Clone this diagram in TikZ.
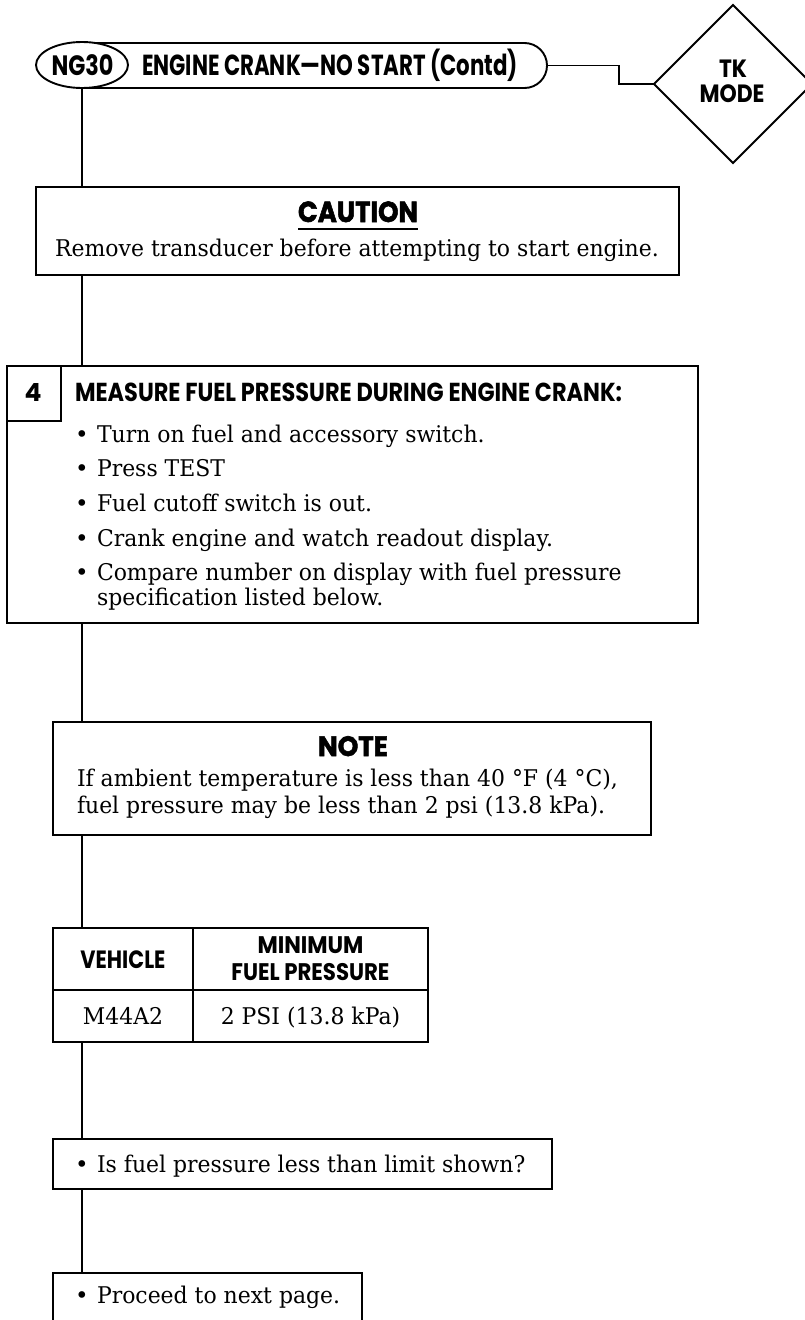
\documentclass[tikz,border=0pt]{standalone}
\usepackage{fontspec}
\usepackage{graphicx}
\usetikzlibrary{shapes.geometric}
\newfontfamily\bodyf{DejaVu Serif}
\newfontfamily\hdf{Poppins}
\newfontfamily\heavyf{Poppins}[BoldFeatures={FakeBold=2}]
\newlength\tmpw
\newcommand\bodysz{\fontsize{23}{27}\selectfont}
\AtBeginDocument{%
  \settowidth\tmpw{\bodyf\bodysz If ambient temperature is less than 40 °F (4 °C),}%
  \pgfmathsetmacro\bxs{541/\tmpw}%
}
\newcommand\bt[1]{\scalebox{\bxs}[1]{\bodyf\bodysz #1}}
\newcommand\bul{{\bodyf\bodysz •}}
\newcommand\hw[3]{\resizebox{#1pt}{\height}{\hdf\fontsize{#2}{#2}\selectfont\bfseries #3}}
\newcommand\hv[3]{\resizebox{#1pt}{\height}{\heavyf\fontsize{#2}{#2}\selectfont\bfseries #3}}
\begin{document}
\begin{tikzpicture}[x=1pt,y=-1pt,
  box/.style={draw, line width=1.9pt, inner sep=0pt, outer sep=0pt, fill=white},
  txt/.style={inner sep=0pt, outer sep=0pt},
  link/.style={line width=1.9pt}]
\useasboundingbox (0,0) rectangle (805,1320);
\fill[white] (0,0) rectangle (805,1320);

% header
\node[box, rounded corners=22.5pt, minimum width=487.5pt, minimum height=45pt] (hdr) at (303.25,65.5) {};
\node[box, ellipse, minimum width=92pt, minimum height=46pt] (ng) at (82,65) {};
\node[box, diamond, minimum width=158pt, minimum height=158pt] (tk) at (733,84) {};
\draw[link] (hdr.east) -- ++(72,0) |- (tk.west);

% boxes
\node[box, minimum width=643pt, minimum height=88pt] (caution) at (357.5,231) {};
\node[box, minimum width=691pt, minimum height=257pt] (step) at (352.5,494.5) {};
\node[box, minimum width=54pt, minimum height=55pt] (num) at (34,393.5) {};
\node[box, minimum width=598pt, minimum height=113pt] (note) at (352,778.5) {};
\node[box, minimum width=140pt, minimum height=62pt] (tv) at (123,959) {};
\node[box, minimum width=235pt, minimum height=62pt] (tp) at (310.5,959) {};
\node[box, minimum width=140pt, minimum height=52pt] (vv) at (123,1016) {};
\node[box, minimum width=235pt, minimum height=52pt] (vp) at (310.5,1016) {};
\node[box, minimum width=499pt, minimum height=50pt] (q) at (302.5,1164) {};
\node[box, minimum width=309pt, minimum height=80pt] (pr) at (207.5,1313) {};

% connectors
\draw[link] (ng.south) -- (ng.south |- caution.north);
\draw[link] (ng.south |- caution.south) -- (ng.south |- step.north);
\draw[link] (ng.south |- step.south) -- (ng.south |- note.north);
\draw[link] (ng.south |- note.south) -- (ng.south |- tv.north);
\draw[link] (ng.south |- vv.south) -- (ng.south |- q.north);
\draw[link] (ng.south |- q.south) -- (ng.south |- pr.north);

% header texts
\node[txt, anchor=base] (ngt) at (82.5,75) {\hw{62}{28}{NG30}};
\node[txt, anchor=base west] (hdt) at (142,75) {\hw{376}{29}{ENGINE CRANK—NO START (Contd)}};
\node[txt, anchor=base] (tkt) at (733,77) {\hw{28}{25}{TK}};
\node[txt, anchor=base] (mdt) at (732,102) {\hw{65}{25}{MODE}};

% caution
\node[txt, anchor=base] (cap) at (358,222) {\hv{120}{29}{CAUTION}};
\draw[line width=2.6pt] ([yshift=-7pt]cap.base west) -- ([yshift=-7pt]cap.base east);
\node[txt, anchor=base] (ct) at (357,256) {\bt{Remove transducer before attempting to start engine.}};

% step 4
\node[txt, anchor=base] (n4) at (33,401) {\hdf\fontsize{25}{25}\selectfont\bfseries 4};
\node[txt, anchor=base west] (sh) at (75,401) {\hw{547}{26}{MEASURE FUEL PRESSURE DURING ENGINE CRANK:}};
\node[txt, anchor=base west] (b1) at (75,442) {\bul};
\node[txt, anchor=base west] (s1) at (97,442) {\bt{Turn on fuel and accessory switch.}};
\node[txt, anchor=base west] (b2) at (75,476) {\bul};
\node[txt, anchor=base west] (s2) at (97,476) {\bt{Press TEST}};
\node[txt, anchor=base west] (b3) at (75,511) {\bul};
\node[txt, anchor=base west] (s3) at (97,511) {\bt{Fuel cutoff switch is out.}};
\node[txt, anchor=base west] (b4) at (75,546) {\bul};
\node[txt, anchor=base west] (s4) at (97,546) {\bt{Crank engine and watch readout display.}};
\node[txt, anchor=base west] (b5) at (75,580) {\bul};
\node[txt, anchor=base west] (s5) at (97,580) {\bt{Compare number on display with fuel pressure}};
\node[txt, anchor=base west] (s6) at (97,605) {\bt{specification listed below.}};

% note
\node[txt, anchor=base] (nt) at (353,756) {\hv{70}{28}{NOTE}};
\node[txt, anchor=base west] (n1) at (77,786) {\bt{If ambient temperature is less than 40 °F (4 °C),}};
\node[txt, anchor=base west] (n2) at (77,813) {\bt{fuel pressure may be less than 2 psi (13.8 kPa).}};

% table
\node[txt, anchor=base] (th1) at (123,968) {\hw{85}{25}{VEHICLE}};
\node[txt, anchor=base] (th2) at (310.5,953) {\hw{106}{24}{MINIMUM}};
\node[txt, anchor=base] (th3) at (310.5,980) {\hw{158}{24}{FUEL PRESSURE}};
\node[txt, anchor=base] (td1) at (123,1024) {\bt{M44A2}};
\node[txt, anchor=base] (td2) at (310.5,1024) {\bt{2 PSI (13.8 kPa)}};

% question and proceed
\node[txt, anchor=base west] (qb) at (75,1172) {\bul};
\node[txt, anchor=base west] (qt) at (97,1172) {\bt{Is fuel pressure less than limit shown?}};
\node[txt, anchor=base west] (pb) at (75,1303) {\bul};
\node[txt, anchor=base west] (pt) at (97,1303) {\bt{Proceed to next page.}};
\end{tikzpicture}
\end{document}
